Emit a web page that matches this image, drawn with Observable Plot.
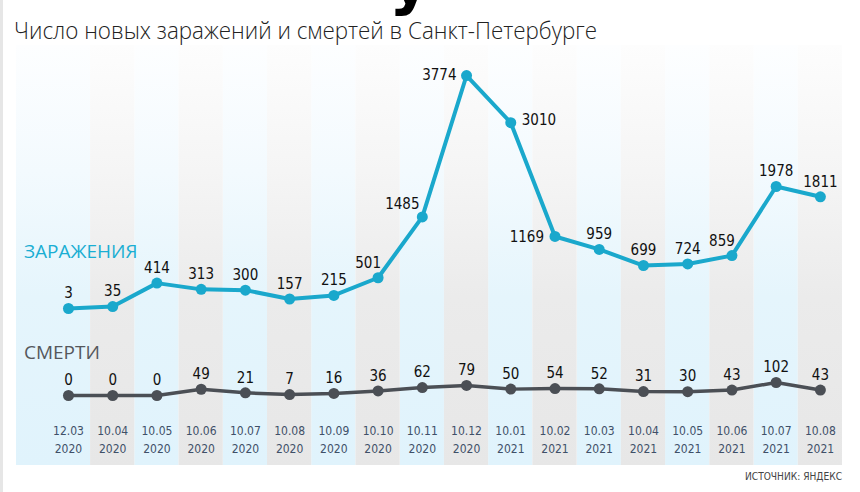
<!DOCTYPE html>
<html>
<head>
<meta charset="utf-8">
<script src="https://cdn.jsdelivr.net/npm/d3@7"></script>
<script src="https://cdn.jsdelivr.net/npm/@observablehq/plot@0.6"></script>
<style>
  html, body { margin: 0; padding: 0; background: #fff; }
  body { width: 860px; height: 492px; position: relative; overflow: hidden; }
  #strip { position: absolute; left: 0; top: 0; width: 3px; height: 492px; background: #e6e6e6; }
  #glyph { position: absolute; left: 389px; top: -52px; font: bold 64px "DejaVu Sans"; line-height: 1; color: #000; }
  #title { position: absolute; left: 14px; top: 16px; font: 300 24px "Open Sans", sans-serif; color: #222; white-space: nowrap; line-height: 1.2; transform-origin: 0 0; }
  .plot { position: absolute; left: 0; top: 45px; }
  .lbl { position: absolute; left: 24px; font: 19px "Open Sans", sans-serif; line-height: 1; white-space: nowrap; }
  #lInf { top: 242px; color: #1aaed3; }
  #lDeath { top: 343px; color: #55585c; }
  #source { position: absolute; left: 745px; top: 470px; font: 11px "DejaVu Sans Condensed", sans-serif; color: #444; white-space: nowrap; transform-origin: 0 0; }
</style>
</head>
<body>
<div id="strip"></div>
<div id="glyph">у</div>
<div id="title">Число новых заражений и смертей в Санкт-Петербурге</div>
<div id="chart"></div>
<div class="lbl" id="lInf">ЗАРАЖЕНИЯ</div>
<div class="lbl" id="lDeath">СМЕРТИ</div>
<div id="source">ИСТОЧНИК: ЯНДЕКС</div>
<script>
// ---- data ----
const dates = ["12.03","10.04","10.05","10.06","10.07","10.08","10.09","10.10","10.11","10.12",
               "10.01","10.02","10.03","10.04","10.05","10.06","10.07","10.08"];
const years = ["2020","2020","2020","2020","2020","2020","2020","2020","2020","2020",
               "2021","2021","2021","2021","2021","2021","2021","2021"];
const infections = [3, 35, 414, 313, 300, 157, 215, 501, 1485, 3774, 3010, 1169, 959, 699, 724, 859, 1978, 1811];
const deaths = [0, 0, 0, 49, 21, 7, 16, 36, 62, 79, 50, 54, 52, 31, 30, 43, 102, 43];

// ---- layout / style ----
const n = dates.length;
const idx = d3.range(n);
const xDomain = [-1.175, n - 0.5];
const yInfDomain = [-2538, 4260];
const yDeathDomain = [-549, 2745];
const cInf = "#1aa8cc", cDeath = "#4b4f55";
const valueFont = {fontSize: 15, fontFamily: "DejaVu Sans Condensed", fill: "#111"};

// label placements for infections (index -> offsets)
const infPlace = {
  7: {dx: -10, dy: -15},
  8: {dx: -20, dy: -13},
  9: {textAnchor: "end", dx: -10, dy: 0},
  10: {textAnchor: "start", dx: 11, dy: -3},
  11: {textAnchor: "end", dx: -11, dy: 1},
  15: {dx: -10, dy: -14}
};

const common = {
  width: 860, height: 420,
  marginTop: 0, marginBottom: 0, marginLeft: 16, marginRight: 18,
  x: {domain: xDomain, axis: null},
  style: {background: "transparent", overflow: "visible"}
};

const X = i => i;
const infMarks = [
  Plot.barX(idx.filter(i => i % 2 === 0), {x1: i => i === 0 ? xDomain[0] : i - 0.5, x2: i => i + 0.5, fill: "url(#gBlue)"}),
  Plot.barX(idx.filter(i => i % 2 === 1), {x1: i => i - 0.5, x2: i => i + 0.5, fill: "url(#gGray)"}),
  Plot.text(idx, {x: X, text: i => dates[i] + "\n" + years[i], frameAnchor: "bottom", lineAnchor: "bottom",
    dy: -13, lineHeight: 1.5, fontSize: 12, fontFamily: "DejaVu Sans Condensed, sans-serif", fill: "#3f5068"}),
  Plot.line(idx, {x: X, y: i => infections[i], stroke: cInf, strokeWidth: 4, strokeLinejoin: "round"}),
  Plot.dot(idx, {x: X, y: i => infections[i], r: 5.5, fill: cInf}),
  Plot.text(idx.filter(i => !(i in infPlace)), {x: X, y: i => infections[i], text: i => String(infections[i]), dy: -15, ...valueFont})
];
for (const [k, p] of Object.entries(infPlace)) {
  const i = +k;
  infMarks.push(Plot.text([i], {x: X, y: j => infections[j], text: j => String(infections[j]), ...p, ...valueFont}));
}

const svgInf = Plot.plot({...common, y: {domain: yInfDomain, axis: null}, marks: infMarks});

// gradients
const defs = d3.select(svgInf).insert("defs", ":first-child");
function grad(id, stops) {
  const g = defs.append("linearGradient").attr("id", id).attr("x1", 0).attr("y1", 0).attr("x2", 0).attr("y2", 1);
  for (const [o, c] of stops) g.append("stop").attr("offset", o).attr("stop-color", c);
}
grad("gBlue", [[0, "#fdfeff"], [0.3, "#f3fafe"], [0.6, "#e5f5fc"], [1, "#e0f3fc"]]);
grad("gGray", [[0, "#fdfdfd"], [0.3, "#f5f5f5"], [0.6, "#ebebeb"], [1, "#e7e7e7"]]);

const svgDeath = Plot.plot({
  ...common,
  y: {domain: yDeathDomain, axis: null},
  marks: [
    Plot.line(idx, {x: X, y: i => deaths[i], stroke: cDeath, strokeWidth: 3.5, strokeLinejoin: "round"}),
    Plot.dot(idx, {x: X, y: i => deaths[i], r: 5.5, fill: cDeath}),
    Plot.text(idx, {x: X, y: i => deaths[i], text: i => String(deaths[i]), dy: -15, ...valueFont})
  ]
});

svgInf.classList.add("plot");
svgDeath.classList.add("plot");
const chart = document.getElementById("chart");
chart.appendChild(svgInf);
chart.appendChild(svgDeath);

// fit the title and source widths to the reference
function fit(id, w) {
  const el = document.getElementById(id);
  const cw = el.getBoundingClientRect().width;
  if (cw > 0) el.style.transform = `scaleX(${w / cw})`;
}
fit("title", 583);
fit("source", 97);
</script>
</body>
</html>
